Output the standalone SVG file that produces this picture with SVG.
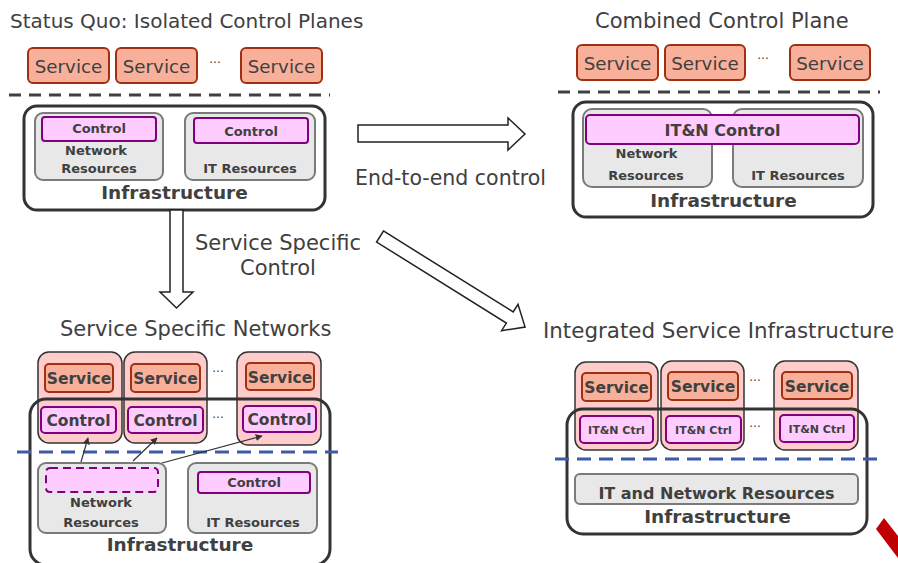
<svg xmlns="http://www.w3.org/2000/svg" width="898" height="563" viewBox="0 0 898 563">
<style>
.t{font-family:"DejaVu Sans",Verdana,sans-serif;fill:#404040}
.ti{font-size:21px}
.sv{font-size:18.3px}
.b{font-weight:bold}
.m{text-anchor:middle}
.dots{font-family:"DejaVu Sans",sans-serif;font-size:12px;fill:#404040;text-anchor:middle}
.svc{fill:#f9b09b;stroke:#a0300f;stroke-width:2}
.ctl{fill:#ffccff;stroke:#800080;stroke-width:2}
.res{fill:#e8e8e8;stroke:#7a7a7a;stroke-width:2}
.infra{fill:none;stroke:#333;stroke-width:3}
.col{fill:#ffcccc;stroke:#333;stroke-width:1.5}
.blk{fill:#fff;stroke:#222;stroke-width:1.5}
.gdash{stroke:#404040;stroke-width:3;stroke-dasharray:12 8;fill:none}
.bdash{stroke:#3f5aa8;stroke-width:3;stroke-dasharray:14 8;fill:none}
.thin{stroke:#333;stroke-width:1.2;fill:none;marker-end:url(#ah)}
</style>
<defs>
<marker id="ah" viewBox="0 0 10 10" refX="9" refY="5" markerWidth="7" markerHeight="7" markerUnits="userSpaceOnUse" orient="auto">
<path d="M0,0 L10,5 L0,10 z" fill="#333"/>
</marker>
</defs>
<rect width="898" height="563" fill="#fff"/>

<!-- Titles -->
<text class="t" x="10" y="28" font-size="20">Status Quo: Isolated Control Planes</text>
<text class="t ti" x="595" y="28">Combined Control Plane</text>
<text class="t ti" x="60" y="336">Service Specific Networks</text>
<text class="t" x="543" y="338" font-size="21.4">Integrated Service Infrastructure</text>

<!-- Top-left: status quo -->
<g id="tl-services">
<rect class="svc" x="28" y="48" width="81" height="35" rx="5"/>
<text class="t sv m" x="68.5" y="73">Service</text>
<rect class="svc" x="116" y="48" width="81" height="35" rx="5"/>
<text class="t sv m" x="156.5" y="73">Service</text>
<text class="dots" x="215" y="63">...</text>
<rect class="svc" x="241" y="48" width="81" height="35" rx="5"/>
<text class="t sv m" x="281.5" y="73">Service</text>
</g>
<line class="gdash" x1="9" y1="95" x2="330" y2="95"/>
<g id="tl-infra">
<rect class="infra" x="24" y="106" width="301" height="104" rx="13" fill="#fff"/>
<rect class="res" x="35" y="113" width="128" height="67" rx="8"/>
<rect class="ctl" x="42" y="117" width="114" height="24" rx="3"/>
<text class="t b m" x="99" y="133" font-size="13">Control</text>
<text class="t b m" x="96" y="155" font-size="13">Network</text>
<text class="t b m" x="99" y="173" font-size="13">Resources</text>
<rect class="res" x="185" y="113" width="130" height="67" rx="8"/>
<rect class="ctl" x="194" y="118" width="114" height="25" rx="3"/>
<text class="t b m" x="251" y="136" font-size="13">Control</text>
<text class="t b m" x="250" y="173" font-size="13">IT Resources</text>
<text class="t b m" x="174.5" y="199" font-size="18.5">Infrastructure</text>
</g>

<!-- Top-right: combined -->
<g id="tr-services">
<rect class="svc" x="577" y="45" width="81" height="35" rx="5"/>
<text class="t sv m" x="617.5" y="70">Service</text>
<rect class="svc" x="665" y="45" width="80" height="35" rx="5"/>
<text class="t sv m" x="705" y="70">Service</text>
<text class="dots" x="763" y="59">...</text>
<rect class="svc" x="790" y="45" width="80" height="35" rx="5"/>
<text class="t sv m" x="830" y="70">Service</text>
</g>
<line class="gdash" x1="558" y1="92" x2="880" y2="92"/>
<g id="tr-infra">
<rect class="infra" x="573" y="102" width="300" height="115" rx="13" fill="#fff"/>
<rect class="res" x="583" y="109" width="129" height="78" rx="9"/>
<rect class="res" x="733" y="109" width="130" height="78" rx="9"/>
<rect class="ctl" x="586" y="115" width="273" height="29" rx="4"/>
<text class="t b m" x="722.5" y="136" font-size="16">IT&amp;N Control</text>
<text class="t b m" x="646.5" y="158" font-size="13">Network</text>
<text class="t b m" x="646" y="180" font-size="13">Resources</text>
<text class="t b m" x="798" y="180" font-size="13">IT Resources</text>
<text class="t b m" x="723.5" y="207" font-size="18.5">Infrastructure</text>
</g>

<!-- Block arrows -->
<g id="transitions">
<polygon class="blk" points="358,125 508,125 508,118 525,134 508,150 508,142 358,142"/>
<text class="t" x="355" y="185" font-size="20.5">End-to-end control</text>
<polygon class="blk" points="170,210 183,210 183,292 193,292 176.5,308 160,292 170,292"/>
<text class="t ti" x="195" y="250">Service Specific</text>
<text class="t ti m" x="278" y="275">Control</text>
<polygon class="blk" transform="translate(380,236.5) rotate(31.97)" points="0,-6.5 153,-6.5 153,-15.5 171,0 153,15.5 153,6.5 0,6.5"/>
</g>

<!-- Bottom-left: service specific networks -->
<g id="bl-infra-bg">
<rect x="30" y="399" width="300" height="166" rx="16" fill="#fff"/>
</g>
<g id="bl-col1">
<rect class="col" x="38" y="352" width="84" height="91" rx="11"/>
<rect class="svc" x="45" y="364" width="68" height="28" rx="4"/>
<text class="t b m" x="79" y="384" font-size="15.5">Service</text>
<rect class="ctl" x="41" y="407" width="75" height="26" rx="4"/>
<text class="t b m" x="78.5" y="426" font-size="15.5">Control</text>
</g>
<g id="bl-col2">
<rect class="col" x="124" y="352" width="83" height="91" rx="11"/>
<rect class="svc" x="131" y="364" width="69" height="28" rx="4"/>
<text class="t b m" x="165.5" y="384" font-size="15.5">Service</text>
<rect class="ctl" x="128" y="407" width="75" height="26" rx="4"/>
<text class="t b m" x="165.5" y="426" font-size="15.5">Control</text>
</g>
<text class="dots" x="218" y="372">...</text>
<text class="dots" x="218" y="418">...</text>
<g id="bl-col3">
<rect class="col" x="237" y="352" width="84" height="93" rx="11"/>
<rect class="svc" x="246" y="363" width="68" height="27" rx="4"/>
<text class="t b m" x="280" y="383" font-size="15.5">Service</text>
<rect class="ctl" x="243" y="406" width="73" height="26" rx="4"/>
<text class="t b m" x="279.5" y="425" font-size="15.5">Control</text>
</g>
<g id="bl-infra">
<rect class="infra" x="30" y="399" width="300" height="166" rx="16"/>
<line class="bdash" x1="17" y1="452" x2="338" y2="452"/>
<rect class="res" x="38" y="463" width="128" height="70" rx="8"/>
<rect x="46" y="468" width="112" height="24" rx="4" fill="#ffccff" stroke="#800080" stroke-width="2" stroke-dasharray="8 5"/>
<text class="t b m" x="101" y="507" font-size="13">Network</text>
<text class="t b m" x="101" y="527" font-size="13">Resources</text>
<rect class="res" x="188" y="463" width="129" height="70" rx="8"/>
<rect class="ctl" x="198" y="472" width="112" height="21" rx="3"/>
<text class="t b m" x="254" y="487" font-size="13">Control</text>
<text class="t b m" x="253" y="527" font-size="13">IT Resources</text>
<text class="t b m" x="180" y="551" font-size="18.5">Infrastructure</text>
</g>
<g id="bl-connectors">
<line class="thin" x1="81" y1="462" x2="88" y2="438"/>
<line class="thin" x1="133" y1="461" x2="157" y2="438"/>
<line class="thin" x1="162" y1="463" x2="262" y2="436"/>
</g>

<!-- Bottom-right: integrated service infrastructure -->
<g id="br-infra-bg">
<rect x="567" y="409" width="300" height="125" rx="16" fill="#fff"/>
</g>
<g id="br-col1">
<rect class="col" x="575" y="362" width="83" height="88" rx="11"/>
<rect class="svc" x="582" y="373" width="69" height="28" rx="4"/>
<text class="t b m" x="616.5" y="393" font-size="15.5">Service</text>
<rect class="ctl" x="580" y="416" width="73" height="27" rx="4"/>
<text class="t b m" x="616.5" y="434" font-size="11">IT&amp;N Ctrl</text>
</g>
<g id="br-col2">
<rect class="col" x="661" y="361" width="83" height="89" rx="11"/>
<rect class="svc" x="668" y="372" width="70" height="28" rx="4"/>
<text class="t b m" x="703" y="392" font-size="15.5">Service</text>
<rect class="ctl" x="666" y="416" width="75" height="27" rx="4"/>
<text class="t b m" x="703.5" y="434" font-size="11">IT&amp;N Ctrl</text>
</g>
<text class="dots" x="755" y="381">...</text>
<text class="dots" x="755" y="427">...</text>
<g id="br-col3">
<rect class="col" x="774" y="361" width="84" height="89" rx="11"/>
<rect class="svc" x="782" y="372" width="70" height="27" rx="4"/>
<text class="t b m" x="817" y="392" font-size="15.5">Service</text>
<rect class="ctl" x="780" y="415" width="74" height="27" rx="4"/>
<text class="t b m" x="817" y="433" font-size="11">IT&amp;N Ctrl</text>
</g>
<g id="br-infra">
<rect class="infra" x="567" y="409" width="300" height="125" rx="16"/>
<line class="bdash" x1="555" y1="459" x2="877" y2="459"/>
<rect class="res" x="575" y="474" width="283" height="30" rx="5"/>
<text class="t b m" x="716.5" y="499" font-size="16">IT and Network Resources</text>
<text class="t b m" x="717.5" y="523" font-size="18.5">Infrastructure</text>
</g>

<!-- corner mark -->
<polygon points="876,529 884,518 898,536 898,558" fill="#c00000"/>
</svg>
